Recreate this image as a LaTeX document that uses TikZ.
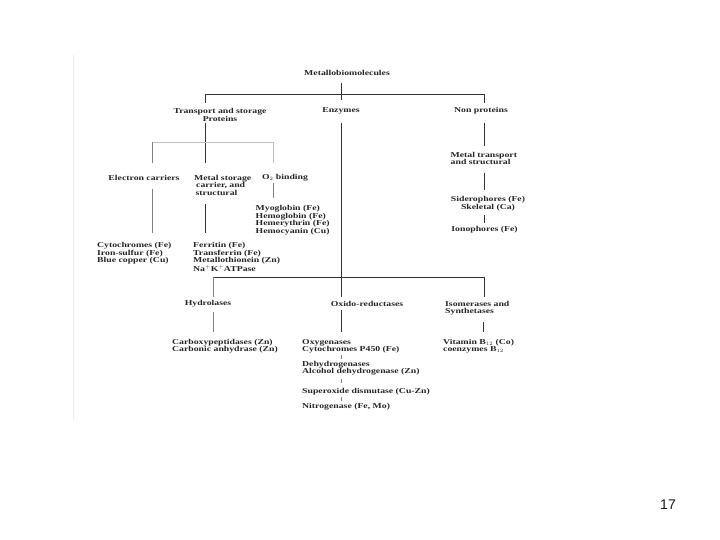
\documentclass[tikz,border=0pt]{standalone}
\usepackage{fontspec}
\setmainfont{Liberation Serif}[FakeStretch=1.3]
\newfontfamily\pagefont{Liberation Sans}
\begin{document}
\begin{tikzpicture}[x=1pt,y=-1pt,
  lbl/.style={font=\fontsize{7.5}{7.4}\selectfont\bfseries, text=black!85, inner sep=0pt},
  lft/.style={lbl, align=left, anchor=north west},
  ctr/.style={lbl, align=center},
  dk/.style={draw=black!80, line width=0.8pt},
  md/.style={draw=black!50, line width=0.8pt},
  lt/.style={draw=black!25, line width=0.8pt}]
\useasboundingbox[fill=white] (0,0) rectangle (720,540);
% faint scan border
\coordinate (b1) at (73,55); \coordinate (b2) at (73,420);
\draw[black!7, line width=0.8pt] (b1) -- (b2);

% labels
\node[ctr] (title) at (347,73) {Metallobiomolecules};
\node[ctr] (tsp) at (220,115) {Transport and storage\\Proteins};
\node[ctr] (enz) at (341,111) {Enzymes};
\node[ctr] (nonp) at (481,111) {Non proteins};
\node[ctr] (elec) at (144,178) {Electron carriers};
\node[lft] (mstor) at (194,175) {Metal storage\\\hspace{2pt}carrier, and\\\hspace{1.5pt}structural};
\node[ctr] (otwo) at (285,178) {O$_2$ binding};
\node[lft] (myo) at (255.5,205.5) {Myoglobin (Fe)\\Hemoglobin (Fe)\\Hemerythrin (Fe)\\Hemocyanin (Cu)};
\node[lft] (cyto) at (97,242.5) {Cytochromes (Fe)\\Iron-sulfur (Fe)\\Blue copper (Cu)};
\node[lft] (ferr) at (193,242.5) {Ferritin (Fe)\\Transferrin (Fe)\\Metallothionein (Zn)\\Na$^{\scriptscriptstyle+}$K$^{\scriptscriptstyle+}$ATPase};
\node[lft] (mtr) at (450.5,152) {Metal transport\\and structural};
\node[ctr] (sid) at (488,203.5) {Siderophores (Fe)\\Skeletal (Ca)};
\node[ctr] (iono) at (484.5,230) {Ionophores (Fe)};
\node[ctr] (hydro) at (208,304) {Hydrolases};
\node[ctr] (oxido) at (367,304) {Oxido-reductases};
\node[lft] (isom) at (445,301) {Isomerases and\\Synthetases};
\node[lft] (carb) at (172,339) {Carboxypeptidases (Zn)\\Carbonic anhydrase (Zn)};
\node[lft] (oxyg) at (302,339) {Oxygenases\\Cytochromes P450 (Fe)};
\node[lft] (dehyd) at (302,361) {Dehydrogenases\\Alcohol dehydrogenase (Zn)};
\node[lft] (sod) at (302,388) {Superoxide dismutase (Cu-Zn)};
\node[lft] (nitro) at (302,403) {Nitrogenase (Fe, Mo)};
\node[lft] (vit) at (443,339) {Vitamin B$_{12}$ (Co)\\coenzymes B$_{12}$};
\node[font=\pagefont\fontsize{14}{16}\selectfont, text=black!90, inner sep=0pt] (pg) at (668,505) {17};

% junction coordinates
\coordinate (t0) at (341,83);  \coordinate (t1) at (341,94);
\coordinate (tl) at (205,94);  \coordinate (tr) at (484,94);
\coordinate (tld) at (205,103); \coordinate (tmd) at (341,100); \coordinate (trd) at (484,103);

\coordinate (s0) at (205,123); \coordinate (s1) at (205,163);
\coordinate (sl) at (152,142); \coordinate (sr) at (273,142);
\coordinate (sld) at (152,163); \coordinate (srd) at (273,163);

\coordinate (e0) at (152,189); \coordinate (e1) at (152,233);
\coordinate (m0) at (205,204); \coordinate (m1) at (205,233);
\coordinate (o0) at (273,183); \coordinate (o1) at (273,198);

\coordinate (z0) at (341,123); \coordinate (z1) at (341,297);
\coordinate (zl) at (213,277); \coordinate (zr) at (484,277);
\coordinate (zld) at (213,297); \coordinate (zrd) at (484,297);

\coordinate (h0) at (213,312); \coordinate (h1) at (213,332);
\coordinate (x0) at (341,310); \coordinate (x1) at (341,332);
\coordinate (i0) at (483,322); \coordinate (i1) at (483,332);
\coordinate (k1a) at (341,354.5); \coordinate (k1b) at (341,358.5);
\coordinate (k2a) at (341,379); \coordinate (k2b) at (341,383);
\coordinate (k3a) at (341,397); \coordinate (k3b) at (341,401);

\coordinate (n0) at (484,123); \coordinate (n1) at (484,146);
\coordinate (n2) at (484,173); \coordinate (n3) at (484,190);
\coordinate (n4) at (484,215); \coordinate (n5) at (484,223);

% connectors
\draw[dk] (t0) -- (t1);
\draw[dk] (tl) -- (tr);
\draw[dk] (tl) -- (tld);
\draw[dk] (t1) -- (tmd);
\draw[dk] (tr) -- (trd);

\draw[dk] (s0) -- (s1);
\draw[lt] (sl) -- (sr);
\draw[md] (sl) -- (sld);
\draw[lt] (sr) -- (srd);

\draw[md] (e0) -- (e1);
\draw[dk] (m0) -- (m1);
\draw[md] (o0) -- (o1);

\draw[dk] (z0) -- (z1);
\draw[dk] (zl) -- (zr);
\draw[md] (zl) -- (zld);
\draw[dk] (zr) -- (zrd);

\draw[md] (h0) -- (h1);
\draw[dk] (x0) -- (x1);
\draw[dk] (i0) -- (i1);
\draw[md] (k1a) -- (k1b);
\draw[md] (k2a) -- (k2b);
\draw[md] (k3a) -- (k3b);

\draw[dk] (n0) -- (n1);
\draw[dk] (n2) -- (n3);
\draw[dk] (n4) -- (n5);
\end{tikzpicture}
\end{document}
